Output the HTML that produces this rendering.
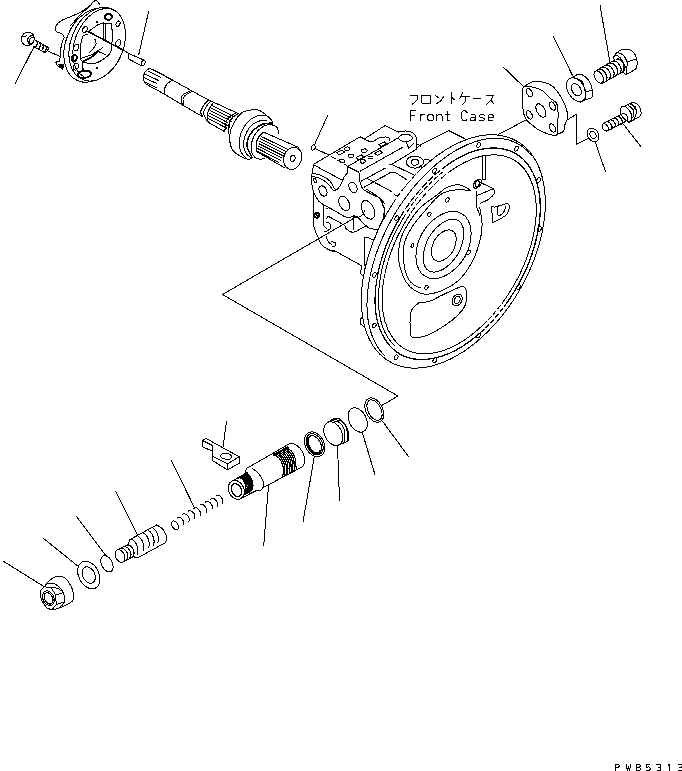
<!DOCTYPE html>
<html><head><meta charset="utf-8"><title>Front Case</title>
<style>
html,body{margin:0;padding:0;background:#fff;}
body{width:682px;height:771px;overflow:hidden;font-family:"Liberation Sans",sans-serif;}
svg{display:block;position:absolute;left:0;top:0;}
path,ellipse,line{stroke-linecap:round;stroke-linejoin:round;}
</style></head><body>
<svg shape-rendering="crispEdges" width="682" height="771" viewBox="0 0 682 771">
<rect x="0" y="0" width="682" height="771" fill="#fff"/>
<path d="M33.4 41.9 A6.3 6.8 28 0 1 22.2 35.9 A6.3 6.8 28 0 1 33.4 41.9Z" fill="none" stroke="#000" stroke-width="1"/>
<path d="M32.2 35.3 C31.6 35.6 29.3 36.5 28.6 37.2 C27.9 37.9 27.9 38.8 27.8 39.7 C27.8 40.6 27.9 41.7 28.3 42.6 C28.7 43.5 29.7 44.5 30 44.9" fill="none" stroke="#000" stroke-width="1.2"/>
<path d="M33.3 37.1 C32.8 37.4 30.9 38 30.3 38.6 C29.7 39.2 29.8 40.1 29.7 40.8 C29.6 41.5 29.8 42.2 30 42.8 C30.2 43.4 30.9 44.1 31.1 44.4" fill="none" stroke="#000" stroke-width="1"/>
<path d="M22 35.6 L23.4 36.4" fill="none" stroke="#000" stroke-width="1"/>
<path d="M24.5 36.7 L26.4 36" fill="none" stroke="#000" stroke-width="1"/>
<path d="M34.8 39.7 L48.7 47.7" fill="none" stroke="#000" stroke-width="1"/>
<path d="M33.3 46.3 L45.1 52.9" fill="none" stroke="#000" stroke-width="1"/>
<path d="M48.7 47.7 L47.6 50.7 L45.1 52.9" fill="none" stroke="#000" stroke-width="1"/>
<path d="M37 41 Q38 45 35.4 47.5" fill="none" stroke="#000" stroke-width="1.3"/>
<path d="M40 42.7 Q41 46.7 38.4 49.2" fill="none" stroke="#000" stroke-width="1.3"/>
<path d="M43 44.4 Q44 48.4 41.4 50.8" fill="none" stroke="#000" stroke-width="1.3"/>
<path d="M46 46.1 Q47 50.1 44.4 52.5" fill="none" stroke="#000" stroke-width="1.3"/>
<path d="M47.3 50.7 L60.1 56.5" fill="none" stroke="#000" stroke-width="1"/>
<path d="M34.1 46.6 L15.2 83.6" fill="none" stroke="#000" stroke-width="1"/>
<path d="M99.9 5 C99.5 4.4 98.3 2.2 97.5 1.5 C96.7 0.8 95.7 0.6 94.9 0.8 C94.1 1 93.1 1.8 92.5 2.5 C91.9 3.2 91.3 4.6 91.1 5" fill="none" stroke="#000" stroke-width="1"/>
<path d="M91.1 5 L80.5 12.5 L62.5 20" fill="none" stroke="#000" stroke-width="1"/>
<path d="M62.5 20 C61.7 20.6 58.8 22.1 57.5 23.7 C56.2 25.2 55.1 27.9 55 29.3 C54.9 30.7 55.6 31 56.9 31.8 C58.1 32.6 61.3 33.4 62.5 34.3 C63.7 35.2 64 36.9 64.3 37.4" fill="none" stroke="#000" stroke-width="1"/>
<path d="M64.3 37.4 C64 38 63.1 39 62.5 41.1 C61.9 43.2 61 47 60.6 49.9 C60.2 52.8 60.2 56.7 60 58.6 C59.8 60.5 59.5 60.7 59.4 61.1" fill="none" stroke="#000" stroke-width="1"/>
<path d="M59.4 61.1 L55.6 62.3 L57.5 65.5 L62.5 69.2" fill="none" stroke="#000" stroke-width="1"/>
<path d="M58.6 64.6 L62.8 68.8 L64 65Z" fill="#000" stroke="#000" stroke-width="1"/>
<path d="M116.9 55.2 A26.5 38.3 22 0 1 67.7 35.4 A26.5 38.3 22 0 1 116.9 55.2Z" fill="none" stroke="#000" stroke-width="1"/>
<path d="M91.1 5 L81.2 13.7 L70 26.2" fill="none" stroke="#000" stroke-width="1"/>
<path d="M121.6 54.1 A26.3 38.2 22 0 1 72.8 34.3 A26.3 38.2 22 0 1 121.6 54.1Z" fill="#fff" stroke="#000" stroke-width="1"/>
<path d="M83.6 76.7 A24.2 36.6 22 1 1 118.3 13.3" fill="none" stroke="#000" stroke-width="1"/>
<path d="M86.7 30.9 A2.2 3.2 35 0 1 83.1 28.3 A2.2 3.2 35 0 1 86.7 30.9Z" fill="none" stroke="#000" stroke-width="1"/>
<path d="M119.8 24.5 A2 3.4 25 0 1 116.2 22.9 A2 3.4 25 0 1 119.8 24.5Z" fill="none" stroke="#000" stroke-width="1"/>
<path d="M120.5 44 A2.4 3.4 25 0 1 116.1 42 A2.4 3.4 25 0 1 120.5 44Z" fill="none" stroke="#000" stroke-width="1"/>
<path d="M78.4 48.4 A2.4 3.4 25 0 1 74 46.4 A2.4 3.4 25 0 1 78.4 48.4Z" fill="none" stroke="#000" stroke-width="1"/>
<path d="M78.1 67.7 A2.4 3.4 25 0 1 73.7 65.7 A2.4 3.4 25 0 1 78.1 67.7Z" fill="none" stroke="#000" stroke-width="1"/>
<path d="M111.6 15.6 A3.4 3 -20 0 1 105.2 18 A3.4 3 -20 0 1 111.6 15.6Z" fill="none" stroke="#000" stroke-width="1.9"/>
<path d="M76.6 59 A2.4 3.4 20 0 1 72 57.4 A2.4 3.4 20 0 1 76.6 59Z" fill="none" stroke="#000" stroke-width="1.9"/>
<path d="M91 73.5 A6.8 4 -8 0 1 77.6 75.3 A6.8 4 -8 0 1 91 73.5Z" fill="none" stroke="#000" stroke-width="1.9"/>
<path d="M103.6 23 L103.6 40.5" fill="none" stroke="#000" stroke-width="1.2"/>
<path d="M105.5 23 L105.5 40.5" fill="none" stroke="#000" stroke-width="1"/>
<path d="M88.7 31.2 L98.6 24.3 L103.6 23 L111.1 23" fill="none" stroke="#000" stroke-width="1"/>
<path d="M111.1 23 C111.3 24.6 112.1 29.2 112.3 32.4 C112.5 35.6 112.1 39.1 112 42 C111.9 44.9 112.3 47.8 111.7 49.9 C111.1 52 109.1 54.1 108.6 54.9" fill="none" stroke="#000" stroke-width="1"/>
<path d="M87.4 34.9 C86.7 35.1 84.2 34.1 83 36.2 C81.8 38.3 80.9 43.7 80.5 47.4 C80.1 51.1 80.1 56.1 80.5 58.6 C80.9 61.1 82.6 61.7 83 62.3" fill="none" stroke="#000" stroke-width="1"/>
<path d="M80.5 58.6 C82.3 58 88.3 56.1 91.1 54.9 C93.9 53.6 95.4 52.3 97.4 51.1 C99.4 49.9 102.1 48.1 103 47.5" fill="none" stroke="#000" stroke-width="1"/>
<path d="M97.4 51.1 L106.1 54.9" fill="none" stroke="#000" stroke-width="1"/>
<path d="M83 62.3 C84.8 62.5 90.4 64 93.6 63.6 C96.8 63.2 99.9 61.4 102.4 59.9 C104.9 58.4 107.6 55.7 108.6 54.9" fill="none" stroke="#000" stroke-width="1"/>
<path d="M82.4 61.7 C83.9 61 88.7 58.9 91.1 57.4 C93.5 55.9 95.8 53.7 96.8 53" fill="none" stroke="#000" stroke-width="1.8"/>
<path d="M94.9 39.3 C95.1 40 96.3 42.1 96.1 43.6 C95.9 45.1 94.6 46.5 93.6 48 C92.6 49.5 90.5 51.7 89.9 52.4" fill="none" stroke="#000" stroke-width="1"/>
<path d="M82.4 62.3 L82.7 69.8" fill="none" stroke="#000" stroke-width="1.8"/>
<path d="M97.4 22.2 A0.6 0.6 0 0 1 96.2 22.2 A0.6 0.6 0 0 1 97.4 22.2Z" fill="#000" stroke="#000" stroke-width="1"/>
<path d="M97.7 68.3 A0.6 0.6 0 0 1 96.5 68.3 A0.6 0.6 0 0 1 97.7 68.3Z" fill="#000" stroke="#000" stroke-width="1"/>
<path d="M88 31.4 L121.2 49.1" fill="none" stroke="#000" stroke-width="1.5"/>
<path d="M121.2 49.1 L131 54.5" fill="none" stroke="#000" stroke-width="1"/>
<path d="M128.7 53.6 L143.7 59.9" fill="none" stroke="#000" stroke-width="1"/>
<path d="M128 58.6 L141.8 66" fill="none" stroke="#000" stroke-width="1"/>
<path d="M128.7 53.6 L128 58.6" fill="none" stroke="#000" stroke-width="1"/>
<path d="M144.8 63.8 A1.8 3.3 25 0 1 141.6 62.2 A1.8 3.3 25 0 1 144.8 63.8Z" fill="none" stroke="#000" stroke-width="1"/>
<path d="M138.7 54.9 L148.7 11.2" fill="none" stroke="#000" stroke-width="1"/>
<path d="M149.7 68.2 C149 68.8 146.3 70.4 145.3 71.7 C144.3 73 143.8 74.8 143.5 76.1 C143.2 77.4 143.2 78.4 143.5 79.6 C143.8 80.8 144.6 82.2 145.3 83.1 C146 84 147.1 84.6 147.5 84.9" fill="none" stroke="#000" stroke-width="1"/>
<path d="M149.7 68.2 L172.4 80 L191.1 90.5 L208.3 99.9" fill="none" stroke="#000" stroke-width="1"/>
<path d="M147.5 84.9 L164.9 94.4 L182.4 104.9 L201.7 116.1" fill="none" stroke="#000" stroke-width="1"/>
<path d="M153.2 69.6 L164.2 75.4" fill="none" stroke="#000" stroke-width="1"/>
<path d="M148.4 71.2 L160.7 77.4" fill="none" stroke="#000" stroke-width="1"/>
<path d="M145.7 74.3 L158.5 80.5" fill="none" stroke="#000" stroke-width="1"/>
<path d="M143.7 77.4 L156.7 83.5" fill="none" stroke="#000" stroke-width="1"/>
<path d="M144.4 81.8 L156.3 87.5" fill="none" stroke="#000" stroke-width="1"/>
<path d="M172.4 80 C171.5 80.7 168.2 82.6 166.8 84.3 C165.5 86 164.6 88.2 164.3 89.9 C164 91.6 164.8 93.6 164.9 94.3" fill="none" stroke="#000" stroke-width="1"/>
<path d="M191.1 90.5 C189.8 91.1 185.3 92.9 183.6 94.3 C181.9 95.7 181.3 96.9 181.1 98.7 C180.9 100.5 182.2 103.9 182.4 104.9" fill="none" stroke="#000" stroke-width="1"/>
<path d="M192.6 91.3 C191.4 92 187 93.8 185.4 95.2 C183.8 96.6 183.2 97.7 183 99.5 C182.8 101.3 183.8 104.8 184 105.8" fill="none" stroke="#000" stroke-width="1"/>
<path d="M208.7 100 C207.8 101 204.4 104.1 203.1 106.2 C201.8 108.3 200.7 110.7 200.6 112.4 C200.5 114.1 202.2 115.6 202.5 116.2" fill="none" stroke="#000" stroke-width="1.3"/>
<path d="M210.6 101.2 C209.8 102.2 206.8 105.2 205.6 107.4 C204.4 109.6 203.4 112 203.7 114.3 C204 116.6 206.9 120 207.5 121.2" fill="none" stroke="#000" stroke-width="1"/>
<path d="M213.5 102.3 C212.8 103.4 210.3 106.6 209.3 108.7 C208.3 110.8 207.7 112.7 207.5 114.9 C207.3 117.1 208 120.7 208.1 121.8" fill="none" stroke="#000" stroke-width="1"/>
<path d="M208.7 100 L238.6 113.7" fill="none" stroke="#000" stroke-width="1"/>
<path d="M207.5 121.8 L224.9 131.8" fill="none" stroke="#000" stroke-width="1"/>
<path d="M211.8 105.2 L233.3 116.2" fill="none" stroke="#000" stroke-width="1"/>
<path d="M211.1 107.9 L232.6 118.9" fill="none" stroke="#000" stroke-width="1"/>
<path d="M210.3 110.6 L231.8 121.6" fill="none" stroke="#000" stroke-width="1"/>
<path d="M209.6 113.3 L228.1 122.8" fill="none" stroke="#000" stroke-width="1"/>
<path d="M208.8 115.9 L227.3 125.4" fill="none" stroke="#000" stroke-width="1"/>
<path d="M208.1 118.6 L226.6 128.1" fill="none" stroke="#000" stroke-width="1"/>
<path d="M238.6 113.7 C237.6 114.3 233.9 115.7 232.4 117.4 C230.9 119.1 229.9 121 229.3 123.7 C228.7 126.4 228.8 131.9 228.7 133.6" fill="none" stroke="#000" stroke-width="1.3"/>
<path d="M236.1 113 C234.9 113.7 230.5 115.4 228.7 117.4 C226.9 119.4 226.1 122.5 225.5 124.9 C224.9 127.3 225 130.7 224.9 131.8" fill="none" stroke="#000" stroke-width="1"/>
<path d="M272.4 124.3 C272.3 123.7 272.9 122.1 271.8 120.6 C270.8 119 268.3 116.7 266.1 115 C263.9 113.3 261.2 111 258.7 110.2 C256.2 109.4 253.5 109.8 251.2 110 C248.9 110.2 246.9 110.5 245 111.2 C243.1 111.9 241.7 112.6 240 114.3 C238.3 116 236.5 118.8 235 121.2 C233.5 123.6 232.1 126.2 231.2 128.7 C230.3 131.2 229.9 133.9 229.7 136.2 C229.5 138.5 229.5 140.1 230 142.4 C230.5 144.7 230.8 147.6 232.5 149.9 C234.2 152.2 237.5 154.6 240 156.1 C242.5 157.6 245.4 158.8 247.4 159.2 C249.4 159.6 251.1 158.5 251.8 158.4" fill="#fff" stroke="#000" stroke-width="1"/>
<path d="M266.1 115 C264.5 115.2 259.3 115 256.2 116.2 C253.1 117.4 249.9 119.7 247.4 122.4 C244.9 125.1 242.5 128.9 241.2 132.4 C239.8 135.9 239.3 140.3 239.3 143.6 C239.3 146.9 239.8 149.8 241.2 152.4 C242.5 155 246.4 158.1 247.4 159.2" fill="none" stroke="#000" stroke-width="1"/>
<path d="M266.1 120.6 C264.9 120.7 261.4 120.2 258.7 121.2 C256 122.2 252.3 124.3 250 126.8 C247.7 129.3 246.1 133 245 136.2 C243.9 139.4 243.5 143.2 243.7 146.1 C243.9 149 244.8 151.6 246.2 153.6 C247.5 155.6 250.9 157.3 251.8 158" fill="none" stroke="#000" stroke-width="1"/>
<path d="M271.8 123 C270.2 123.2 265.4 123.1 262.4 124.3 C259.4 125.5 256.1 127.6 253.7 130 C251.3 132.4 249.1 135.8 248 138.7 C246.9 141.6 246.8 144.3 247.4 147.4 C248 150.5 251.1 155.7 251.8 157.4" fill="none" stroke="#000" stroke-width="1.5"/>
<path d="M278.6 133.7 C278.4 132.8 278.4 129.4 277.4 128 C276.4 126.5 274.5 125.4 272.4 125 C270.3 124.6 267.5 124.6 265 125.6 C262.5 126.6 259.5 128.8 257.4 131.2 C255.3 133.6 253.4 136.9 252.4 140 C251.4 143.1 250.8 147.1 251.2 150 C251.6 152.9 253.5 155.9 255 157.4 C256.5 158.9 258.3 159.1 260 159.2 C261.7 159.3 264.2 158.2 265 158" fill="#fff" stroke="#000" stroke-width="1"/>
<path d="M263.7 132.4 C263 133 260.4 134.8 259.3 136.2 C258.2 137.6 257.3 138.8 256.8 141.1 C256.3 143.4 256.1 148.1 256.2 149.9 C256.3 151.7 257.1 151.7 257.3 152" fill="none" stroke="#000" stroke-width="1.3"/>
<path d="M263.7 132.2 L298.6 147.4" fill="none" stroke="#000" stroke-width="1"/>
<path d="M256.8 151.7 L284.9 168" fill="none" stroke="#000" stroke-width="1"/>
<path d="M261.5 136.6 L288.2 149.6" fill="none" stroke="#000" stroke-width="1"/>
<path d="M260.7 138.9 L286.7 151.8" fill="none" stroke="#000" stroke-width="1"/>
<path d="M259.8 141.3 L285.1 153.9" fill="none" stroke="#000" stroke-width="1"/>
<path d="M259 143.7 L283.5 156" fill="none" stroke="#000" stroke-width="1"/>
<path d="M258.2 146.1 L281.9 158.1" fill="none" stroke="#000" stroke-width="1"/>
<path d="M257.4 148.4 L280.4 160.2" fill="none" stroke="#000" stroke-width="1"/>
<path d="M256.5 150.8 L278.8 162.4" fill="none" stroke="#000" stroke-width="1"/>
<path d="M301 161.3 A8.8 11.3 20 0 1 284.4 155.3 A8.8 11.3 20 0 1 301 161.3Z" fill="#fff" stroke="#000" stroke-width="1"/>
<path d="M294.9 159.1 A2.3 3.2 20 0 1 290.5 157.5 A2.3 3.2 20 0 1 294.9 159.1Z" fill="none" stroke="#000" stroke-width="1"/>
<path d="M315 148 A1.8 2.8 20 0 1 311.6 146.8 A1.8 2.8 20 0 1 315 148Z" fill="none" stroke="#000" stroke-width="1"/>
<path d="M315 143.6 L327.7 115.2" fill="none" stroke="#000" stroke-width="1"/>
<path d="M315 148.6 L328.7 154.9" fill="none" stroke="#000" stroke-width="1"/>
<path d="M331 156.3 L347 165.5" fill="none" stroke="#000" stroke-width="1" stroke-dasharray="5 3"/>
<path d="M313.7 164.3 L360.1 136.8 L364.3 138.9 L385.3 125.5 L398.6 132.2" fill="none" stroke="#000" stroke-width="1"/>
<path d="M398.7 131.8 C399.9 131.7 403.7 130.8 406.1 131 C408.5 131.2 411.3 132 413 133 C414.7 134 415.5 135.3 416.1 136.8 C416.7 138.3 416.3 141.1 416.4 142" fill="none" stroke="#000" stroke-width="1"/>
<path d="M416.4 142 L416.4 148.7" fill="none" stroke="#000" stroke-width="1"/>
<path d="M364.3 138.9 C365.1 139.3 367.4 140.8 368.9 141.2 C370.4 141.6 371.8 141.8 373.5 141.2 C375.2 140.6 376.6 138.5 379.1 137.8 C381.6 137.2 386.7 136.9 388.4 137.3 C390.1 137.7 389.2 139.9 389.4 140.4" fill="none" stroke="#000" stroke-width="1"/>
<path d="M348.3 166.1 L398.7 137.7" fill="none" stroke="#000" stroke-width="1"/>
<path d="M412.2 138 A6.7 3.8 0 0 1 398.8 138 A6.7 3.8 0 0 1 412.2 138Z" fill="none" stroke="#000" stroke-width="1"/>
<path d="M406.1 141.8 L408.6 148 L414.3 143" fill="none" stroke="#000" stroke-width="1"/>
<path d="M360.1 171.2 L403 147.1" fill="none" stroke="#000" stroke-width="1"/>
<path d="M361.2 181.2 L385.3 168.1" fill="none" stroke="#000" stroke-width="1"/>
<path d="M364.3 187.1 L390.4 172.7 L395.6 172.7 L406.8 179.8" fill="none" stroke="#000" stroke-width="1"/>
<path d="M389.4 164.9 L391.8 164.3 L394.9 162.4 L416.4 149.3" fill="none" stroke="#000" stroke-width="1"/>
<path d="M391.8 164.3 L414.9 175.5" fill="none" stroke="#000" stroke-width="1"/>
<path d="M416.4 148.7 L419.9 144.9 L448.7 130.6 L465 138.8" fill="none" stroke="#000" stroke-width="1"/>
<path d="M417.4 144.3 L420.5 146" fill="none" stroke="#000" stroke-width="1"/>
<path d="M414.9 175.5 L470 141.1" fill="none" stroke="#000" stroke-width="1"/>
<path d="M424.9 159.3 L431.1 160.5 L450 150 L465 140" fill="none" stroke="#000" stroke-width="1"/>
<path d="M423.5 162.1 A8.6 6 0 0 1 406.3 162.1 A8.6 6 0 0 1 423.5 162.1Z" fill="none" stroke="#000" stroke-width="1"/>
<path d="M418.5 162.3 A3.6 2.9 0 0 1 411.3 162.3 A3.6 2.9 0 0 1 418.5 162.3Z" fill="none" stroke="#000" stroke-width="1"/>
<path d="M420 165 L421.7 168.6 L424.2 165.5" fill="none" stroke="#000" stroke-width="1"/>
<path d="M365 186.7 L390.6 172.4" fill="none" stroke="#000" stroke-width="1"/>
<path d="M375.6 183 L391.8 191.7" fill="none" stroke="#000" stroke-width="1" stroke-dasharray="4 3"/>
<path d="M367.8 178.9 L391.5 191.2" fill="none" stroke="#000" stroke-width="1" stroke-dasharray="6 3"/>
<path d="M394.1 194.4 L431.6 212.4" fill="none" stroke="#000" stroke-width="1" stroke-dasharray="7 3"/>
<path d="M336.7 152.9 L341.9 150 L344.5 152.1 L339.3 155Z" fill="none" stroke="#000" stroke-width="1"/>
<path d="M349.7 148.3 A2.6 1.8 -10 0 1 344.5 149.3 A2.6 1.8 -10 0 1 349.7 148.3Z" fill="none" stroke="#000" stroke-width="1"/>
<path d="M353.7 155.6 A2.8 1.7 -5 0 1 348.1 156 A2.8 1.7 -5 0 1 353.7 155.6Z" fill="none" stroke="#000" stroke-width="1"/>
<path d="M344.6 161.6 A2.6 1.8 10 0 1 339.4 160.6 A2.6 1.8 10 0 1 344.6 161.6Z" fill="none" stroke="#000" stroke-width="1"/>
<path d="M367.1 150.5 A2.8 1.8 -5 0 1 361.5 150.9 A2.8 1.8 -5 0 1 367.1 150.5Z" fill="none" stroke="#000" stroke-width="1"/>
<path d="M356.1 157.7 L361.3 154.8 L363.7 156.9 L358.5 159.8Z" fill="none" stroke="#000" stroke-width="1"/>
<path d="M365.3 161.2 A2.6 1.8 -5 0 1 360.1 161.6 A2.6 1.8 -5 0 1 365.3 161.2Z" fill="none" stroke="#000" stroke-width="1"/>
<path d="M368 156.3 L372.6 156.3" fill="none" stroke="#000" stroke-width="1"/>
<path d="M368 158.6 L372.6 158.6" fill="none" stroke="#000" stroke-width="1"/>
<path d="M374.8 153.3 L380 150.4 L382.4 152.5 L377.2 155.4Z" fill="none" stroke="#000" stroke-width="1"/>
<path d="M378.8 144.7 L384.1 141.8 L386.4 143.7 L381.1 146.6Z" fill="none" stroke="#000" stroke-width="1"/>
<path d="M313.7 164.9 L342.7 180.4 L343.7 177.3 L347.3 173.2 L347.8 166.6" fill="none" stroke="#000" stroke-width="1"/>
<path d="M347.8 166.6 L357.1 171.2" fill="none" stroke="#000" stroke-width="1.6"/>
<path d="M357.1 171.2 C357.4 171.4 358.6 171.1 359 172.6 C359.4 174.1 359.1 177.9 359.5 180.2 C359.9 182.4 360.6 184.5 361.3 186.1 C362 187.7 362.1 188.3 363.7 189.6 C365.3 190.9 368 192.2 370.7 193.7 C373.4 195.2 377.7 196.6 380.1 198.4 C382.5 200.2 384.2 203.3 385 204.3" fill="none" stroke="#000" stroke-width="1"/>
<path d="M366 189 C367.6 190 372.9 193 375.4 194.9 C377.9 196.8 379.8 198.5 381.2 200.7 C382.6 202.8 383.2 206.6 383.6 207.8" fill="none" stroke="#000" stroke-width="1"/>
<path d="M313.7 164.9 C313.4 166.1 312.5 169.1 312.2 172 C311.9 174.9 311.4 179 311.6 182.4 C311.9 185.8 312.5 189.2 313.7 192.3 C314.9 195.4 317 198.9 318.7 201 C320.4 203.1 322.9 204.2 323.7 204.8" fill="none" stroke="#000" stroke-width="1"/>
<path d="M313.5 190 L313.5 225" fill="none" stroke="#000" stroke-width="1"/>
<path d="M323.7 204.8 L323.7 226" fill="none" stroke="#000" stroke-width="1"/>
<path d="M313.3 225.1 C313.6 226.1 314.4 228.9 315.4 231.3 C316.3 233.7 318 237.3 319 239.6 C320 241.8 320.2 243.2 321.6 244.8 C323 246.4 325.4 247.8 327.3 248.9 C329.2 250 332.1 251.1 333 251.5" fill="none" stroke="#000" stroke-width="1"/>
<path d="M333 251.5 L335.1 251 L361.1 265.4" fill="none" stroke="#000" stroke-width="1"/>
<path d="M312.6 173.2 C314.3 173.7 319.7 174.7 322.6 176.1 C325.5 177.5 328.2 179.3 330.2 181.4 C332.1 183.5 333.2 187 334.3 188.4 C335.4 189.8 335.7 190.1 336.7 189.6 C337.7 189.1 339.2 187 340.2 185.5 C341.2 184 342.3 181.2 342.7 180.4" fill="none" stroke="#000" stroke-width="1"/>
<path d="M311.5 176.1 C312.9 176.5 317.5 177.2 320.2 178.5 C322.9 179.8 325.8 181.8 327.9 183.7 C330 185.5 331.2 188.4 332.6 189.6 C334 190.8 335.5 190.6 336.1 190.8" fill="none" stroke="#000" stroke-width="1"/>
<path d="M326.4 189.4 A3.8 6.3 -25 0 1 319.6 192.6 A3.8 6.3 -25 0 1 326.4 189.4Z" fill="none" stroke="#000" stroke-width="1"/>
<path d="M356.4 185.8 A3.8 6.6 -25 0 1 349.6 189 A3.8 6.6 -25 0 1 356.4 185.8Z" fill="none" stroke="#000" stroke-width="1"/>
<path d="M348.7 201.5 A4.8 7.8 -25 0 1 339.9 205.5 A4.8 7.8 -25 0 1 348.7 201.5Z" fill="none" stroke="#000" stroke-width="1"/>
<path d="M373.3 207.3 A5.8 9.8 -25 0 1 362.7 212.3 A5.8 9.8 -25 0 1 373.3 207.3Z" fill="none" stroke="#000" stroke-width="1"/>
<path d="M316.1 180 A1.2 2.6 -25 0 1 313.9 181 A1.2 2.6 -25 0 1 316.1 180Z" fill="none" stroke="#000" stroke-width="1"/>
<path d="M319.2 215.4 A2.4 2.4 0 0 1 314.4 215.4 A2.4 2.4 0 0 1 319.2 215.4Z" fill="none" stroke="#000" stroke-width="1.8"/>
<path d="M315.3 214 L318.3 216.8" fill="none" stroke="#000" stroke-width="1.5"/>
<path d="M323.7 204.8 C325.8 205.9 332.3 209.5 336.1 211.6 C339.9 213.7 343.6 216.5 346.5 217.3 C349.4 218.1 352.5 216.5 353.7 216.3" fill="none" stroke="#000" stroke-width="1"/>
<path d="M353.7 216.3 C354.4 216.5 356.3 217.7 357.9 217.3 C359.5 217 362 215.3 363.1 214.2 C364.2 213.1 364.3 211.1 364.5 210.5" fill="none" stroke="#000" stroke-width="1"/>
<path d="M353.5 216 L357.9 217.3" fill="none" stroke="#000" stroke-width="1.6"/>
<path d="M353.2 215.7 L353.2 229.7" fill="none" stroke="#000" stroke-width="1"/>
<path d="M328.3 216.3 C330.9 217.8 340.9 222.9 343.9 225.1 C346.9 227.2 344.9 228 346.5 229.2 C348.1 230.4 350.9 232.3 353.2 232.3 C355.4 232.3 357.8 230.3 360 229.2 C362.2 228.1 365.2 226.2 366.2 225.6" fill="none" stroke="#000" stroke-width="1"/>
<path d="M357.9 217.3 C358.8 218.2 361.2 221.2 363.1 223 C365 224.8 367.3 227.2 369.3 228.2 C371.3 229.2 373.2 229 375 229.2 C376.8 229.4 379 229.3 379.8 229.3" fill="none" stroke="#000" stroke-width="1"/>
<path d="M328.3 216.3 L326.5 218.3" fill="none" stroke="#000" stroke-width="1"/>
<path d="M326.3 208.5 L329.4 207.4" fill="none" stroke="#000" stroke-width="1"/>
<path d="M323.7 225.6 L326.3 228.2" fill="none" stroke="#000" stroke-width="1"/>
<path d="M326.8 222.5 C327.3 222.7 329.3 222.6 329.9 223.5 C330.5 224.4 330.8 227 330.4 228.2 C330 229.4 328.2 230.2 327.3 230.8 C326.4 231.4 325.1 231.6 324.7 231.8" fill="none" stroke="#000" stroke-width="1"/>
<path d="M326.3 236.5 C326.6 237.4 327.4 240.3 328.3 241.7 C329.2 243.1 331.4 244.3 332 244.8" fill="none" stroke="#000" stroke-width="1"/>
<path d="M331.4 241.7 C332 241.9 334.5 242 335.1 242.7 C335.7 243.4 335.5 245.1 335.1 245.8 C334.7 246.5 332.9 246.6 332.5 246.8" fill="none" stroke="#000" stroke-width="1"/>
<path d="M330.9 250 L335.1 251" fill="none" stroke="#000" stroke-width="1"/>
<path d="M364.6 237.5 L364.6 265.5" fill="none" stroke="#000" stroke-width="1"/>
<path d="M364.6 237.5 L367.2 237 L373.4 240.1" fill="none" stroke="#000" stroke-width="1"/>
<path d="M373.6 240.5 C374.3 238.8 376.4 233.6 378 230 C379.6 226.4 381.8 221.8 383 219 C384.2 216.2 384.7 214 385 213" fill="none" stroke="#000" stroke-width="1"/>
<path d="M383 205 C383.3 205.8 384.9 208.3 385 210 C385.1 211.7 383.5 213.5 383.5 215 C383.5 216.5 384.8 218.3 385 219" fill="none" stroke="#000" stroke-width="1"/>
<path d="M361.1 265.4 L361.6 267.5 L360.3 272.2 L361.1 274.5 L364.3 275.8 L363.3 277.6" fill="none" stroke="#000" stroke-width="1"/>
<path d="M222.5 294.5 L357.4 216.2" fill="none" stroke="#000" stroke-width="1"/>
<path d="M222.5 294.5 L398 396" fill="none" stroke="#000" stroke-width="1"/>
<ellipse cx="453.33" cy="251.5" rx="76.7" ry="127.3" transform="rotate(30 453.33 251.5)" fill="#fff" stroke="none"/>
<path d="M426.1 164.5 A76.7 127.3 30 1 1 392.7 203.7" fill="none" stroke="#000" stroke-width="1"/>
<path d="M392.7 203.7 A76.7 127.3 30 0 1 426.1 164.5" fill="none" stroke="#000" stroke-width="1" stroke-dasharray="5 3"/>
<path d="M384.8 355.8 A72.3 125.7 30 1 1 531.9 156.2" fill="none" stroke="#000" stroke-width="1"/>
<path d="M444 167.4 A68 115.5 30 0 1 506.8 303" fill="none" stroke="#000" stroke-width="1.3"/>
<path d="M506.8 303 A68 115.5 30 0 1 483.9 329.5" fill="none" stroke="#000" stroke-width="1.2" stroke-dasharray="4 3"/>
<path d="M483.9 329.5 A68 115.5 30 0 1 400.8 216.3" fill="none" stroke="#000" stroke-width="1.3"/>
<path d="M400.8 216.3 A68 115.5 30 0 1 444 167.4" fill="none" stroke="#000" stroke-width="1.2" stroke-dasharray="6 3"/>
<path d="M448.5 172.5 A62.8 108.9 30 0 1 504.4 300.1" fill="none" stroke="#000" stroke-width="1"/>
<path d="M504.4 300.1 A62.8 108.9 30 0 1 482.9 325.1" fill="none" stroke="#000" stroke-width="1" stroke-dasharray="4 3"/>
<path d="M482.9 325.1 A62.8 108.9 30 0 1 406.7 219.6" fill="none" stroke="#000" stroke-width="1"/>
<path d="M406.7 219.6 A62.8 108.9 30 0 1 448.5 172.5" fill="none" stroke="#000" stroke-width="1" stroke-dasharray="6 3"/>
<path d="M403.6 217.4 A66.3 113 30 0 0 395 346.2" fill="none" stroke="#000" stroke-width="1"/>
<path d="M403.6 217.4 A66.3 113 30 0 1 443 171.7" fill="none" stroke="#000" stroke-width="1" stroke-dasharray="4 3"/>
<path d="M362.3 316.9 L360.3 319.3 L360.5 323.9 L365.2 328" fill="none" stroke="#000" stroke-width="1"/>
<path d="M453.2 251 A10.9 19.1 30 0 1 434.4 240.2 A10.9 19.1 30 0 1 453.2 251Z" fill="none" stroke="#000" stroke-width="1"/>
<path d="M458 254 A16.8 31.4 30 0 1 429 237.2 A16.8 31.4 30 0 1 458 254Z" fill="none" stroke="#000" stroke-width="1"/>
<path d="M464.7 257.2 A24.5 38.5 30 0 1 422.3 232.8 A24.5 38.5 30 0 1 464.7 257.2Z" fill="none" stroke="#000" stroke-width="1"/>
<path d="M375.7 275.8 A1.6 2.6 30 0 1 372.9 274.2 A1.6 2.6 30 0 1 375.7 275.8Z" fill="none" stroke="#000" stroke-width="1"/>
<path d="M375.7 326.3 A1.6 2.6 30 0 1 372.9 324.7 A1.6 2.6 30 0 1 375.7 326.3Z" fill="none" stroke="#000" stroke-width="1"/>
<path d="M397.5 358.1 A1.6 2.6 30 0 1 394.7 356.5 A1.6 2.6 30 0 1 397.5 358.1Z" fill="none" stroke="#000" stroke-width="1"/>
<path d="M436.2 361.2 A1.6 2.6 30 0 1 433.4 359.6 A1.6 2.6 30 0 1 436.2 361.2Z" fill="none" stroke="#000" stroke-width="1"/>
<path d="M480 336.3 A1.6 2.6 30 0 1 477.2 334.7 A1.6 2.6 30 0 1 480 336.3Z" fill="none" stroke="#000" stroke-width="1"/>
<path d="M517.8 149.5 A1.6 2.6 30 0 1 515 147.9 A1.6 2.6 30 0 1 517.8 149.5Z" fill="none" stroke="#000" stroke-width="1"/>
<path d="M540 180.7 A1.6 2.6 30 0 1 537.2 179.1 A1.6 2.6 30 0 1 540 180.7Z" fill="none" stroke="#000" stroke-width="1"/>
<path d="M480 145.8 A1.6 2.6 30 0 1 477.2 144.2 A1.6 2.6 30 0 1 480 145.8Z" fill="none" stroke="#000" stroke-width="1"/>
<path d="M435.9 171.6 A1.6 2.6 30 0 1 433.1 170 A1.6 2.6 30 0 1 435.9 171.6Z" fill="none" stroke="#000" stroke-width="1"/>
<path d="M398.1 219 A1.6 2.6 30 0 1 395.3 217.4 A1.6 2.6 30 0 1 398.1 219Z" fill="none" stroke="#000" stroke-width="1"/>
<path d="M540.9 229.8 A1.6 2.6 30 0 1 538.1 228.2 A1.6 2.6 30 0 1 540.9 229.8Z" fill="none" stroke="#000" stroke-width="1"/>
<path d="M519.9 287.8 A1.6 2.6 30 0 1 517.1 286.2 A1.6 2.6 30 0 1 519.9 287.8Z" fill="none" stroke="#000" stroke-width="1"/>
<path d="M427.8 288.1 A1.5 2.3 30 0 1 425.2 286.6 A1.5 2.3 30 0 1 427.8 288.1Z" fill="none" stroke="#000" stroke-width="1"/>
<path d="M413.8 246.2 A1.5 2.3 30 0 1 411.2 244.8 A1.5 2.3 30 0 1 413.8 246.2Z" fill="none" stroke="#000" stroke-width="1"/>
<path d="M430.6 215.1 A1.5 2.3 30 0 1 428 213.6 A1.5 2.3 30 0 1 430.6 215.1Z" fill="none" stroke="#000" stroke-width="1"/>
<path d="M448.7 200.8 A1.5 2.3 30 0 1 446.1 199.2 A1.5 2.3 30 0 1 448.7 200.8Z" fill="none" stroke="#000" stroke-width="1"/>
<path d="M469.9 253.1 A1.5 2.3 30 0 1 467.3 251.6 A1.5 2.3 30 0 1 469.9 253.1Z" fill="none" stroke="#000" stroke-width="1"/>
<path d="M479.7 207 C480.1 209.9 482.1 218.6 482.1 224.4 C482.1 230.2 481.4 235.7 479.7 241.9 C478 248.1 475.5 255.6 472.2 261.8 C468.9 268 464.3 274.7 459.7 279.3 C455.1 283.9 450.1 286.8 444.7 289.3 C439.3 291.8 432.3 294 427.3 294.2 C422.3 294.4 418.3 292.6 414.8 290.5 C411.3 288.4 408.6 285.8 406.1 281.8 C403.6 277.9 401.1 271.8 399.9 266.8 C398.6 261.8 398.4 256.7 398.6 251.9 C398.8 247.1 399.4 242.7 401 238 C402.6 233.3 404.8 229 408 224 C411.2 219 415.2 212.8 420 208 C424.8 203.2 432.7 198.3 437 195 C441.3 191.7 442.4 189.7 446 188 C449.6 186.3 454.5 184.4 458.7 184.8 C462.9 185.2 468.9 189.5 471 190.4" fill="none" stroke="#000" stroke-width="1"/>
<path d="M404.9 270 C404.6 267.5 403 259.8 403 255 C403 250.2 403.5 245.7 405 241 C406.5 236.3 408.8 231.8 412 227 C415.2 222.2 419.3 217.4 424 212 C428.7 206.6 434.7 198.5 440 194.8 C445.3 191.1 450.8 190.5 456 189.8 C461.2 189.1 468.5 190.5 471 190.6" fill="none" stroke="#000" stroke-width="1"/>
<path d="M404.9 270 C405.5 271.5 407 276.5 408.5 279 C410 281.5 411.9 283.5 414 285 C416.1 286.5 419.8 287.5 421 288" fill="none" stroke="#000" stroke-width="1"/>
<path d="M482.4 156.2 L482.4 179.2" fill="none" stroke="#000" stroke-width="1"/>
<path d="M485.8 156.2 L485.8 179.2" fill="none" stroke="#000" stroke-width="1.3"/>
<path d="M482.4 179.2 L485.8 179.2" fill="none" stroke="#000" stroke-width="1"/>
<path d="M478.9 185.4 A2.6 4.2 25 0 1 474.1 183.2 A2.6 4.2 25 0 1 478.9 185.4Z" fill="none" stroke="#000" stroke-width="1.4"/>
<path d="M480.9 184.3 A2.6 4.2 25 0 1 476.1 182.1 A2.6 4.2 25 0 1 480.9 184.3Z" fill="none" stroke="#000" stroke-width="1"/>
<path d="M479.9 182.3 L493.6 188.6 L476 196" fill="none" stroke="#000" stroke-width="1"/>
<path d="M493.6 188.6 C493.8 189.3 495.3 191.3 494.5 193 C493.7 194.7 491.4 197.2 489 199 C486.6 200.8 481.5 202.8 480 203.5" fill="none" stroke="#000" stroke-width="1"/>
<path d="M476 190.5 L476 204.8 L480 216" fill="none" stroke="#000" stroke-width="1"/>
<path d="M491.7 206 L492.5 222.5" fill="none" stroke="#000" stroke-width="1"/>
<path d="M492.5 222.5 C493.8 221.9 497.6 220.4 500 219 C502.4 217.6 505.4 216.1 507 214 C508.6 211.9 509.3 208.2 509.5 206.5 C509.7 204.8 508.2 204.4 508 204" fill="none" stroke="#000" stroke-width="1"/>
<path d="M491.7 206 L494.5 207.2 L508 203.2" fill="none" stroke="#000" stroke-width="1"/>
<path d="M497.5 208 C497.6 209.2 497.2 214.8 498.2 215.5 C499.2 216.2 502.2 214.1 503.5 212.5 C504.8 210.9 505.6 207.1 506 206" fill="none" stroke="#000" stroke-width="1"/>
<path d="M466 290 C466 292.1 466.6 299.2 466 302.5 C465.4 305.8 464.7 307.1 462.4 310 C460.1 312.9 456.5 316.7 452.4 320 C448.2 323.3 442.1 327.3 437.5 330 C432.9 332.7 428.9 334.9 424.8 336.1 C420.7 337.3 415.4 337.9 413 337.3 C410.6 336.7 410.9 336.2 410.5 332.3 C410.1 328.4 410 317.8 410.5 313.6 C411 309.5 412.2 309.2 413.6 307.4 C415 305.6 417.8 303.7 418.6 303" fill="none" stroke="#000" stroke-width="1"/>
<path d="M418.6 303 C420.5 302.7 426.2 302.3 429.8 301.2 C433.4 300.1 436.3 298 440 296.2 C443.7 294.4 448.7 292 452 290.5 C455.3 289 458 287.6 460 287 C462 286.4 463 286.5 464 287 C465 287.5 465.7 289.5 466 290" fill="none" stroke="#000" stroke-width="1"/>
<path d="M461.2 302.3 A4.6 6.2 30 0 1 453.2 297.7 A4.6 6.2 30 0 1 461.2 302.3Z" fill="none" stroke="#000" stroke-width="1"/>
<path d="M459.5 301.3 A2.6 3.8 30 0 1 454.9 298.7 A2.6 3.8 30 0 1 459.5 301.3Z" fill="none" stroke="#000" stroke-width="1"/>
<path d="M523.6 86.8 C525.2 86 529.7 82.5 533.1 81.8 C536.5 81 540.7 81.5 544 82.3 C547.3 83.1 550.4 84.5 553.1 86.8 C555.8 89.1 558.4 92.9 560.4 95.9 C562.4 98.9 563.7 101.9 564.9 104.9 C566.1 107.9 567.2 111.6 567.6 114 C568 116.4 567.7 117.7 567.2 119.5 C566.8 121.3 565.4 123.2 564.9 124.9 C564.4 126.6 565 128.2 564.5 129.4 C564 130.6 563.4 131.4 562.2 132.2 C561 133 558 134 557.2 134.4" fill="none" stroke="#000" stroke-width="1"/>
<path d="M523.6 86.8 C525.4 85.1 530 86.7 533.1 87.3 C536.2 87.9 539.5 88.7 542.2 90.4 C544.9 92.1 547.2 95.7 549.5 97.7 C551.8 99.7 554.4 100.7 555.8 102.2 C557.1 103.7 557.2 104.5 557.6 106.8 C558 109.1 558.1 112.6 558.1 115.8 C558.1 119 557.8 122.7 557.6 125.8 C557.5 128.9 558 132.8 557.2 134.4 C556.5 136 554.8 135.5 553.1 135.3 C551.4 135.2 549.1 134.3 546.8 133.5 C544.5 132.7 541.8 131.7 539.5 130.4 C537.2 129.1 535.2 127.5 533.1 125.8 C531 124.1 528.3 122.2 526.8 120.4 C525.3 118.6 524.8 117.2 524.1 114.9 C523.4 112.6 523 109.7 522.7 106.8 C522.4 103.9 522.1 101 522.3 97.7 C522.4 94.4 521.8 88.5 523.6 86.8Z" fill="#fff" stroke="#000" stroke-width="1"/>
<path d="M544.4 108.5 A4 7.3 -30 0 1 537.4 112.5 A4 7.3 -30 0 1 544.4 108.5Z" fill="none" stroke="#000" stroke-width="1"/>
<path d="M531.6 91.4 A2.6 4.4 -30 0 1 527 94 A2.6 4.4 -30 0 1 531.6 91.4Z" fill="none" stroke="#000" stroke-width="1"/>
<path d="M554.7 104.8 A2.6 4.4 -30 0 1 550.1 107.4 A2.6 4.4 -30 0 1 554.7 104.8Z" fill="none" stroke="#000" stroke-width="1"/>
<path d="M531.6 113.6 A2.6 4.4 -30 0 1 527 116.2 A2.6 4.4 -30 0 1 531.6 113.6Z" fill="none" stroke="#000" stroke-width="1"/>
<path d="M554.7 126.7 A2.6 4.4 -30 0 1 550.1 129.3 A2.6 4.4 -30 0 1 554.7 126.7Z" fill="none" stroke="#000" stroke-width="1"/>
<path d="M523.7 86.8 L503.1 66.9" fill="none" stroke="#000" stroke-width="1"/>
<path d="M526.2 119.9 L498.2 134.6" fill="none" stroke="#000" stroke-width="1"/>
<path d="M567.3 119.9 L576.4 114.2 L576.4 144.2 L587.5 138.6" fill="none" stroke="#000" stroke-width="1"/>
<path d="M572.5 77.4 C573.5 76.9 576.5 74.4 578.7 74.3 C580.9 74.2 583.5 75.2 585.5 76.8 C587.5 78.3 589.4 81.2 590.5 83.6 C591.6 86 592.2 88.8 592.4 91.1 C592.6 93.4 592.9 95.8 591.8 97.3 C590.6 98.8 587.5 99 585.5 99.8 C583.5 100.6 580.9 101.9 580 102.3" fill="none" stroke="#000" stroke-width="1"/>
<path d="M583.5 85.4 A8.4 12.9 -30 0 1 568.9 93.8 A8.4 12.9 -30 0 1 583.5 85.4Z" fill="#fff" stroke="#000" stroke-width="1"/>
<path d="M580.2 87.6 A4.4 7 -30 0 1 572.6 92 A4.4 7 -30 0 1 580.2 87.6Z" fill="none" stroke="#000" stroke-width="1"/>
<path d="M585.3 92.3 L592.4 89.9" fill="none" stroke="#000" stroke-width="1"/>
<path d="M585.5 92.3 L585.5 99.8" fill="none" stroke="#000" stroke-width="1"/>
<path d="M573 77.8 C574.5 78.3 579.8 78.7 581.8 81.1 C583.8 83.5 584.7 90.4 585.3 92.3" fill="none" stroke="#000" stroke-width="1"/>
<path d="M572.5 75.5 L553.3 36.2" fill="none" stroke="#000" stroke-width="1"/>
<path d="M596.1 70.5 L614.9 59.9" fill="none" stroke="#000" stroke-width="1"/>
<path d="M601.8 83.6 L623 71.8" fill="none" stroke="#000" stroke-width="1"/>
<path d="M602.1 75 A3.9 6.6 -30 0 1 595.3 79 A3.9 6.6 -30 0 1 602.1 75Z" fill="none" stroke="#000" stroke-width="1"/>
<path d="M598.5 69.7 A3.9 6.6 -30 0 1 606.1 80.3" fill="none" stroke="#000" stroke-width="1.2"/>
<path d="M602.1 67.6 A3.9 6.6 -30 0 1 609.7 78.2" fill="none" stroke="#000" stroke-width="1.2"/>
<path d="M605.7 65.6 A3.9 6.6 -30 0 1 613.3 76.2" fill="none" stroke="#000" stroke-width="1.2"/>
<path d="M609.3 63.6 A3.9 6.6 -30 0 1 616.9 74.2" fill="none" stroke="#000" stroke-width="1.2"/>
<path d="M612.9 61.6 A3.9 6.6 -30 0 1 620.5 72.1" fill="none" stroke="#000" stroke-width="1.2"/>
<path d="M616.5 59.5 A3.9 6.6 -30 0 1 624.1 70.1" fill="none" stroke="#000" stroke-width="1.2"/>
<path d="M614.9 54.9 C615.6 54.2 617.4 51.9 619 51 C620.6 50.1 622.6 49.3 624.8 49.3 C627 49.3 630.3 49.6 632.3 51.2 C634.3 52.8 636 56 636.7 58.7 C637.4 61.4 637.4 65.3 636.7 67.4 C636 69.5 634.1 69.9 632.3 71.1 C630.5 72.2 627.6 74.2 626.1 74.3 C624.6 74.4 623.5 72.2 623 71.8" fill="none" stroke="#000" stroke-width="1"/>
<path d="M614.9 54.9 C614.7 55.4 613.5 57.1 613.5 58 C613.5 58.9 614.7 60.1 614.9 60.5" fill="none" stroke="#000" stroke-width="1"/>
<path d="M617.5 52.5 C618.4 52.9 621.4 53.4 623 55 C624.6 56.6 626.4 59.5 627 62 C627.6 64.5 626.6 68 626.5 70 C626.4 72 626.2 73.6 626.1 74.3" fill="none" stroke="#000" stroke-width="1"/>
<path d="M614.9 54.9 C615.8 55.3 618.6 56 620 57.5 C621.4 59 623 61.6 623.5 64 C624 66.4 623.1 70.5 623 71.8" fill="none" stroke="#000" stroke-width="1"/>
<path d="M627 62 L636.7 58.7" fill="none" stroke="#000" stroke-width="1"/>
<path d="M609.9 61.8 L604.3 30 L600 5" fill="none" stroke="#000" stroke-width="1"/>
<path d="M597.8 132.1 A5.6 8.2 -30 0 1 588.2 137.7 A5.6 8.2 -30 0 1 597.8 132.1Z" fill="none" stroke="#000" stroke-width="1"/>
<path d="M595.4 133.5 A2.8 4.5 -30 0 1 590.6 136.3 A2.8 4.5 -30 0 1 595.4 133.5Z" fill="none" stroke="#000" stroke-width="1"/>
<path d="M595.6 143 L605.5 171.7" fill="none" stroke="#000" stroke-width="1"/>
<path d="M624.9 106.2 C626.1 105.6 630.2 103.1 632.3 102.8 C634.4 102.5 635.9 103.1 637.3 104.3 C638.7 105.5 640.3 108.1 640.8 110 C641.3 111.9 641.6 113.9 640.4 115.6 C639.2 117.2 635.6 118.8 633.6 119.9 C631.6 121 629.4 122 628.6 122.4" fill="none" stroke="#000" stroke-width="1"/>
<path d="M630.1 111.5 A4.6 8.2 -30 0 1 622.1 116.1 A4.6 8.2 -30 0 1 630.1 111.5Z" fill="#fff" stroke="#000" stroke-width="1"/>
<path d="M603 123.7 L623.5 113.4" fill="none" stroke="#000" stroke-width="1"/>
<path d="M606.8 131.1 L626 121.2" fill="none" stroke="#000" stroke-width="1"/>
<path d="M607.6 126 A2.8 4.4 -30 0 1 602.8 128.8 A2.8 4.4 -30 0 1 607.6 126Z" fill="none" stroke="#000" stroke-width="1"/>
<path d="M606 122.1 A2.8 4.4 -30 0 1 611.2 129.2" fill="none" stroke="#000" stroke-width="1.2"/>
<path d="M609.4 120.4 A2.8 4.4 -30 0 1 614.6 127.4" fill="none" stroke="#000" stroke-width="1.2"/>
<path d="M612.8 118.6 A2.8 4.4 -30 0 1 618 125.7" fill="none" stroke="#000" stroke-width="1.2"/>
<path d="M616.2 116.9 A2.8 4.4 -30 0 1 621.4 123.9" fill="none" stroke="#000" stroke-width="1.2"/>
<path d="M621.7 114.3 A2.8 4.4 -30 0 1 627.5 120.5" fill="none" stroke="#000" stroke-width="1"/>
<path d="M628.3 105.8 A3.6 6.4 -30 0 1 632.1 117.3" fill="none" stroke="#000" stroke-width="1"/>
<path d="M633 106 L636 109.5" fill="none" stroke="#000" stroke-width="1"/>
<path d="M636 106.5 L633.5 110" fill="none" stroke="#000" stroke-width="1"/>
<path d="M629 103.5 C629.8 103.9 632.8 104.6 634 106 C635.2 107.4 636.6 109.7 636.5 112 C636.4 114.3 634.1 118.6 633.6 119.9" fill="none" stroke="#000" stroke-width="1"/>
<path d="M622.4 123 L641 146.7" fill="none" stroke="#000" stroke-width="1"/>
<path d="M398 396 L381.8 405.5" fill="none" stroke="#000" stroke-width="1"/>
<path d="M381.8 406.3 A8.4 13 -27 0 1 366.8 413.9 A8.4 13 -27 0 1 381.8 406.3Z" fill="none" stroke="#000" stroke-width="1"/>
<path d="M380.3 407.1 A6.5 10.9 -27 0 1 368.7 413.1 A6.5 10.9 -27 0 1 380.3 407.1Z" fill="none" stroke="#000" stroke-width="1"/>
<path d="M382.4 421.1 L408.6 456.7" fill="none" stroke="#000" stroke-width="1"/>
<path d="M365.4 416.1 A8.6 12.9 -27 0 1 350 423.9 A8.6 12.9 -27 0 1 365.4 416.1Z" fill="none" stroke="#000" stroke-width="1"/>
<path d="M362.2 432.1 L375 474.8" fill="none" stroke="#000" stroke-width="1"/>
<path d="M328.7 421.8 C329.9 421.2 333.8 418.1 336.1 418 C338.4 417.9 340.5 419.4 342.4 421.2 C344.3 423 346.4 425.5 347.4 428.6 C348.4 431.7 349 437.6 348.6 439.9 C348.2 442.2 346.8 441.5 344.9 442.4 C343 443.3 338.6 445 337.4 445.5" fill="none" stroke="#000" stroke-width="1"/>
<path d="M341 429.8 A8.6 12.5 -27 0 1 325.6 437.6 A8.6 12.5 -27 0 1 341 429.8Z" fill="#fff" stroke="#000" stroke-width="1"/>
<path d="M331.1 420.5 C332.5 420.9 337.5 421 339.7 422.6 C341.9 424.2 343.6 426.9 344.5 430.1 C345.4 433.3 344.8 439.9 344.9 441.8" fill="none" stroke="#000" stroke-width="1"/>
<path d="M333 419.3 C334.6 419.7 340.1 420.1 342.4 421.8 C344.7 423.5 345.9 426.2 346.7 429.3 C347.5 432.4 347.3 438.8 347.4 440.7" fill="none" stroke="#000" stroke-width="1"/>
<path d="M337.5 445.5 L339.5 500.7" fill="none" stroke="#000" stroke-width="1"/>
<path d="M323 440 A9.4 13 -27 0 1 306.2 448.6 A9.4 13 -27 0 1 323 440Z" fill="none" stroke="#000" stroke-width="1"/>
<path d="M321.5 440.8 A7.7 11.3 -27 0 1 307.7 447.8 A7.7 11.3 -27 0 1 321.5 440.8Z" fill="none" stroke="#000" stroke-width="1"/>
<path d="M320 441.9 A5.8 9.4 -27 0 1 309.6 447.1 A5.8 9.4 -27 0 1 320 441.9Z" fill="none" stroke="#000" stroke-width="1.2"/>
<path d="M320.6 450.7 A5.8 9.4 -27 1 1 308.5 437.8" fill="none" stroke="#000" stroke-width="2.2"/>
<path d="M314.3 456.7 L303 522" fill="none" stroke="#000" stroke-width="1"/>
<path d="M246.2 468.6 L288.6 444.3" fill="none" stroke="#000" stroke-width="1"/>
<path d="M288.6 444.3 C289.3 444.1 291.1 442.8 293 443.4 C294.9 444 297.9 445.9 299.8 448 C301.7 450.1 303.4 453.8 304.2 456.2 C305 458.6 305.1 460.6 304.8 462.4 C304.5 464.2 302.7 466.1 302.3 466.8" fill="none" stroke="#000" stroke-width="1"/>
<path d="M302.3 466.8 L262.4 488" fill="none" stroke="#000" stroke-width="1"/>
<path d="M251.8 468 C253 468.9 256.8 471.4 258.7 473.6 C260.6 475.8 262.2 479 263 481.1 C263.8 483.2 264 484.7 263.7 486.1 C263.4 487.6 262.5 489 261.2 489.8 C259.9 490.6 256.9 490.6 256 490.8" fill="none" stroke="#000" stroke-width="1"/>
<path d="M245.6 472.6 L246.2 468.6" fill="none" stroke="#000" stroke-width="1"/>
<path d="M274.5 454.6 C275.3 455.2 277.7 456.5 279.1 458.2 C280.5 460 282 462.9 282.7 465.1 C283.4 467.3 283.3 469.6 283.3 471.6 C283.3 473.6 282.6 476.3 282.5 477.2" fill="none" stroke="#000" stroke-width="1.2"/>
<path d="M276.1 453.7 C276.8 454.3 279.3 455.6 280.7 457.3 C282 459.1 283.6 462 284.2 464.2 C284.9 466.5 284.9 468.7 284.9 470.7 C284.9 472.7 284.4 475.3 284.2 476.3" fill="none" stroke="#000" stroke-width="1.2"/>
<path d="M277.6 452.9 C278.4 453.5 280.8 454.7 282.2 456.5 C283.6 458.2 285.1 461.1 285.8 463.4 C286.5 465.6 286.4 467.9 286.4 469.9 C286.4 471.9 286.1 474.4 286 475.3" fill="none" stroke="#000" stroke-width="1.2"/>
<path d="M279.1 452 C279.9 452.6 282.4 453.9 283.8 455.6 C285.1 457.4 286.6 460.3 287.3 462.5 C288 464.8 287.9 467 287.9 469 C288 471 287.8 473.5 287.8 474.4" fill="none" stroke="#000" stroke-width="1.2"/>
<path d="M280.7 451.2 C281.5 451.8 283.9 453 285.3 454.8 C286.7 456.5 288.2 459.4 288.9 461.7 C289.6 463.9 289.4 466.2 289.5 468.2 C289.6 470.1 289.5 472.6 289.5 473.5" fill="none" stroke="#000" stroke-width="1.2"/>
<path d="M282.2 450.3 C283 450.9 285.5 452.2 286.9 453.9 C288.2 455.7 289.8 458.6 290.4 460.8 C291.1 463 290.9 465.3 291.1 467.3 C291.2 469.3 291.2 471.7 291.2 472.6" fill="none" stroke="#000" stroke-width="1.2"/>
<path d="M283.8 449.4 C284.6 450 287 451.3 288.4 453 C289.8 454.8 291.3 457.7 292 459.9 C292.7 462.2 292.4 464.5 292.6 466.4 C292.8 468.4 292.9 470.8 293 471.6" fill="none" stroke="#000" stroke-width="1.2"/>
<path d="M285.4 448.6 C286.1 449.2 288.6 450.4 290 452.2 C291.3 453.9 292.9 456.8 293.6 459.1 C294.2 461.3 294 463.6 294.2 465.6 C294.4 467.5 294.6 469.8 294.8 470.7" fill="none" stroke="#000" stroke-width="1.2"/>
<path d="M286.9 447.7 C287.7 448.3 290.1 449.6 291.5 451.3 C292.9 453.1 294.4 456 295.1 458.2 C295.8 460.5 295.5 462.8 295.7 464.7 C295.9 466.6 296.4 468.9 296.5 469.8" fill="none" stroke="#000" stroke-width="1.2"/>
<path d="M273.5 455.2 L287.5 447.3" fill="none" stroke="#000" stroke-width="2"/>
<path d="M231.9 481.1 L246.8 473" fill="none" stroke="#000" stroke-width="1"/>
<path d="M239.3 499.2 L256 490.8" fill="none" stroke="#000" stroke-width="1"/>
<path d="M243.2 486.7 A7.6 9.9 -25 0 1 229.4 493.1 A7.6 9.9 -25 0 1 243.2 486.7Z" fill="none" stroke="#000" stroke-width="1"/>
<path d="M240.9 488.1 A4.8 6.7 -25 0 1 232.1 492.1 A4.8 6.7 -25 0 1 240.9 488.1Z" fill="none" stroke="#000" stroke-width="1.3"/>
<path d="M239.5 477.3 C240.1 477.8 242.3 478.7 243.3 480.1 C244.3 481.5 245.3 483.9 245.7 485.8 C246.1 487.8 246.1 490.3 245.9 491.8 C245.7 493.3 244.9 494.1 244.7 494.6" fill="none" stroke="#000" stroke-width="1.2"/>
<path d="M240.7 476.7 C241.3 477.1 243.4 478.1 244.5 479.5 C245.5 480.9 246.4 483.2 246.8 485.2 C247.3 487.1 247.2 489.7 247.1 491.2 C246.9 492.6 246.1 493.5 245.8 494" fill="none" stroke="#000" stroke-width="1.2"/>
<path d="M241.8 476.1 C242.4 476.5 244.6 477.4 245.6 478.9 C246.6 480.3 247.6 482.6 248 484.6 C248.4 486.5 248.4 489.1 248.2 490.6 C248 492 247.2 492.9 247 493.4" fill="none" stroke="#000" stroke-width="1.2"/>
<path d="M242.9 475.4 C243.6 475.9 245.7 476.8 246.8 478.2 C247.8 479.7 248.7 482 249.1 483.9 C249.6 485.9 249.5 488.5 249.3 489.9 C249.2 491.4 248.3 492.3 248.1 492.7" fill="none" stroke="#000" stroke-width="1.2"/>
<path d="M244.1 474.8 C244.7 475.3 246.9 476.2 247.9 477.6 C248.9 479 249.9 481.4 250.3 483.3 C250.7 485.3 250.7 487.9 250.5 489.3 C250.3 490.8 249.5 491.7 249.3 492.1" fill="none" stroke="#000" stroke-width="1.2"/>
<path d="M245.2 474.2 C245.9 474.7 248 475.6 249.1 477 C250.1 478.4 251 480.8 251.4 482.7 C251.9 484.6 251.8 487.2 251.7 488.7 C251.5 490.2 250.6 491 250.4 491.5" fill="none" stroke="#000" stroke-width="1.2"/>
<path d="M246.4 473.6 C247 474 249.2 475 250.2 476.4 C251.2 477.8 252.2 480.1 252.6 482.1 C253 484 253 486.6 252.8 488.1 C252.6 489.5 251.8 490.4 251.6 490.9" fill="none" stroke="#000" stroke-width="1.2"/>
<path d="M239 477.6 L247 473.2" fill="none" stroke="#000" stroke-width="2"/>
<path d="M268.5 486 L263.7 545.5" fill="none" stroke="#000" stroke-width="1"/>
<path d="M202.5 440.5 L206 438.4 L239.3 456.8 L227.4 463.9 L212.4 456.1" fill="none" stroke="#000" stroke-width="1"/>
<path d="M202.5 440.5 L212.4 445.5" fill="none" stroke="#000" stroke-width="1"/>
<path d="M202.5 440.5 L202.5 446.8 L212.4 451.1" fill="none" stroke="#000" stroke-width="1"/>
<path d="M212.4 445.5 L212.4 460.5 L227.4 469.9 L239.6 463 L239.3 456.8" fill="none" stroke="#000" stroke-width="1"/>
<path d="M227.4 463.9 L227.4 469.9" fill="none" stroke="#000" stroke-width="1"/>
<path d="M231.7 457.2 A5.6 3.3 8 0 1 220.7 455.6 A5.6 3.3 8 0 1 231.7 457.2Z" fill="none" stroke="#000" stroke-width="1"/>
<path d="M223 447.4 L226.4 421.8" fill="none" stroke="#000" stroke-width="1"/>
<path d="M177.5 523.9 A2.9 4.8 -30 0 1 172.5 526.9 A2.9 4.8 -30 0 1 177.5 523.9Z" fill="none" stroke="#000" stroke-width="1"/>
<path d="M176.9 517.9 A3.1 5 -30 0 1 183.4 525" fill="none" stroke="#000" stroke-width="1"/>
<path d="M182.4 514.5 A3.1 5 -30 0 1 188.9 521.6" fill="none" stroke="#000" stroke-width="1"/>
<path d="M188.1 511.4 A3.1 5 -30 0 1 194.6 518.5" fill="none" stroke="#000" stroke-width="1"/>
<path d="M193.7 508.5 A3.1 5 -30 0 1 200.2 515.6" fill="none" stroke="#000" stroke-width="1"/>
<path d="M199.9 505.2 A3.1 5 -30 0 1 206.4 512.3" fill="none" stroke="#000" stroke-width="1"/>
<path d="M205.5 502.1 A3.1 5 -30 0 1 212 509.2" fill="none" stroke="#000" stroke-width="1"/>
<path d="M210.8 499.2 A3.1 5 -30 0 1 217.3 506.3" fill="none" stroke="#000" stroke-width="1"/>
<path d="M216.1 496.1 A3.1 5 -30 0 1 222.6 503.2" fill="none" stroke="#000" stroke-width="1"/>
<path d="M194.9 508.6 L171.2 460" fill="none" stroke="#000" stroke-width="1"/>
<path d="M117.5 549.8 L128.7 544.2" fill="none" stroke="#000" stroke-width="1"/>
<path d="M122.4 562.3 L133.7 556.4" fill="none" stroke="#000" stroke-width="1"/>
<path d="M124 554.1 A4.4 6.6 -25 0 1 116 557.9 A4.4 6.6 -25 0 1 124 554.1Z" fill="none" stroke="#000" stroke-width="1"/>
<path d="M119.1 549.4 A4.4 6.6 -25 1 1 126.5 560" fill="none" stroke="#000" stroke-width="1.2"/>
<path d="M122.2 547.8 A4.4 6.6 -25 1 1 129.6 558.4" fill="none" stroke="#000" stroke-width="1.2"/>
<path d="M125.3 546.2 A4.4 6.6 -25 1 1 132.7 556.8" fill="none" stroke="#000" stroke-width="1.2"/>
<path d="M128.7 544.2 L129.3 539.9" fill="none" stroke="#000" stroke-width="1"/>
<path d="M129.3 539.9 L156.7 524.9" fill="none" stroke="#000" stroke-width="1"/>
<path d="M156.7 524.9 C157.6 525.5 160.7 526.9 162.3 528.6 C163.9 530.3 165.4 533 166.1 534.9 C166.8 536.8 166.9 538.5 166.7 539.9 C166.5 541.2 165.1 542.5 164.8 543" fill="none" stroke="#000" stroke-width="1"/>
<path d="M164.8 543 L138.7 557.3" fill="none" stroke="#000" stroke-width="1"/>
<path d="M138.7 557.3 C138.2 557.3 136.4 557.8 135.5 557.6 C134.6 557.4 133.6 556.4 133.2 556.2" fill="none" stroke="#000" stroke-width="1"/>
<path d="M131.5 538.8 C132.2 539.5 134.6 541.2 135.7 543 C136.8 544.8 137.6 547.9 137.8 549.8 C138 551.7 137.2 553.5 137.1 554.3" fill="none" stroke="#000" stroke-width="1.1"/>
<path d="M137.4 535.5 C138.1 536.2 140.5 537.9 141.6 539.7 C142.7 541.5 143.5 544.6 143.7 546.5 C143.9 548.4 143.1 550.2 143 551" fill="none" stroke="#000" stroke-width="1.1"/>
<path d="M143 532.4 C143.7 533.1 146.1 534.8 147.2 536.6 C148.2 538.4 149.1 541.5 149.3 543.4 C149.5 545.3 148.7 547.1 148.6 547.9" fill="none" stroke="#000" stroke-width="1.1"/>
<path d="M147.8 529.8 C148.5 530.5 150.9 532.2 152 534 C153.1 535.8 153.9 538.9 154.1 540.8 C154.3 542.7 153.5 544.5 153.4 545.3" fill="none" stroke="#000" stroke-width="1.1"/>
<path d="M152.2 527.4 C152.9 528.1 155.3 529.8 156.4 531.6 C157.4 533.4 158.3 536.5 158.5 538.4 C158.7 540.3 157.9 542.1 157.8 542.9" fill="none" stroke="#000" stroke-width="1.1"/>
<path d="M137.4 534.9 L115.6 491.2" fill="none" stroke="#000" stroke-width="1"/>
<path d="M111.7 561.2 A5.4 8.7 -27 0 1 102.1 566.2 A5.4 8.7 -27 0 1 111.7 561.2Z" fill="none" stroke="#000" stroke-width="1"/>
<path d="M105.5 555.2 L76.5 516.5" fill="none" stroke="#000" stroke-width="1"/>
<path d="M97.8 570.4 A10.1 14.6 -27 0 1 79.8 579.6 A10.1 14.6 -27 0 1 97.8 570.4Z" fill="none" stroke="#000" stroke-width="1"/>
<path d="M94.3 572.2 A6.2 9.6 -27 0 1 83.3 577.8 A6.2 9.6 -27 0 1 94.3 572.2Z" fill="none" stroke="#000" stroke-width="1"/>
<path d="M78 566.2 L43 538" fill="none" stroke="#000" stroke-width="1"/>
<path d="M44.3 586.8 C45.2 585.6 47.7 581.7 50 579.9 C52.3 578.1 55.5 576.5 58 576.2 C60.5 575.9 62.7 576.4 64.9 578 C67.1 579.6 69.6 583.3 71.1 586.1 C72.5 588.9 73.4 592.4 73.6 594.9 C73.8 597.4 73.7 599.5 72.4 601.1 C71.2 602.8 68.4 603.6 66.1 604.8 C63.8 606 61.1 607.5 58.7 608.3 C56.3 609.1 52.9 609.5 51.8 609.8" fill="none" stroke="#000" stroke-width="1"/>
<path d="M40 591.1 L44.3 586.8 L51 587.5 L55.7 594.9 L56.2 604.8 L51.8 609.8 L46.8 608 L41.2 599.9Z" fill="#fff" stroke="#000" stroke-width="1"/>
<path d="M53.4 595.7 A5.6 8.2 -27 0 1 43.4 600.7 A5.6 8.2 -27 0 1 53.4 595.7Z" fill="none" stroke="#000" stroke-width="1"/>
<path d="M52.1 596.6 A3.9 6 -27 0 1 45.1 600.2 A3.9 6 -27 0 1 52.1 596.6Z" fill="none" stroke="#000" stroke-width="1.2"/>
<path d="M51 587.5 C52.2 587.7 55.9 587.5 58 588.5 C60.1 589.5 62.7 591.3 63.7 593.6 C64.8 595.9 65.1 599.8 64.3 602.3 C63.5 604.8 59.6 607.3 58.7 608.3" fill="none" stroke="#000" stroke-width="1"/>
<path d="M55.7 594.9 L63.7 592.6" fill="none" stroke="#000" stroke-width="1"/>
<path d="M56.2 604.8 L64.2 601.8" fill="none" stroke="#000" stroke-width="1"/>
<path d="M47 583.8 C48.2 583.8 51.8 582.7 54 583.5 C56.2 584.3 58.9 586.8 60.5 588.5 C62.1 590.2 63.2 592.8 63.7 593.6" fill="none" stroke="#000" stroke-width="1"/>
<path d="M44.3 586.8 L3 561" fill="none" stroke="#000" stroke-width="1"/>
<path d="M410.3 95.2 L417.8 95.2 L417.3 99.8 L415 102.3 L412 104.4" fill="none" stroke="#000" stroke-width="1"/>
<path d="M421.7 95.7 L430.8 95.7 L430.8 103 L421.7 103 L421.7 95.7" fill="none" stroke="#000" stroke-width="1"/>
<path d="M435.9 95.7 L438.4 97.7" fill="none" stroke="#000" stroke-width="1"/>
<path d="M435.9 104 L440.5 101.2 L443.7 96.6" fill="none" stroke="#000" stroke-width="1"/>
<path d="M451 92.2 L451 103.6" fill="none" stroke="#000" stroke-width="1"/>
<path d="M451 96.6 L454.4 99.8" fill="none" stroke="#000" stroke-width="1"/>
<path d="M462.8 92.2 L460 98.4" fill="none" stroke="#000" stroke-width="1"/>
<path d="M461.4 96.6 L469.1 96.6" fill="none" stroke="#000" stroke-width="1"/>
<path d="M466 96.6 L465.6 101.2 L462.8 104.4" fill="none" stroke="#000" stroke-width="1"/>
<path d="M473.2 98.9 L480.9 98.9" fill="none" stroke="#000" stroke-width="1"/>
<path d="M486.5 95.2 L493.4 95.2 L490.7 100.5 L486.5 104.4" fill="none" stroke="#000" stroke-width="1"/>
<path d="M491.1 100.5 L494.1 104" fill="none" stroke="#000" stroke-width="1"/>
<path d="M410.6 120.9 L410.6 110.7 L415.6 110.7" fill="none" stroke="#000" stroke-width="1"/>
<path d="M410.6 115.5 L414.4 115.5" fill="none" stroke="#000" stroke-width="1"/>
<path d="M420.2 114.3 L420.2 120.9" fill="none" stroke="#000" stroke-width="1"/>
<path d="M420.2 116.3 L421.6 114.8 L423 114.3 L424.6 114.7" fill="none" stroke="#000" stroke-width="1"/>
<path d="M429.4 114.3 L431.9 114.3 L433.4 115.7 L433.4 119.5 L431.9 120.9 L429.4 120.9 L427.9 119.5 L427.9 115.7 L429.4 114.3" fill="none" stroke="#000" stroke-width="1"/>
<path d="M436.7 114.3 L436.7 120.9" fill="none" stroke="#000" stroke-width="1"/>
<path d="M436.7 115.9 L438.2 114.6 L440.2 114.3 L441.7 114.9 L442.2 116.2 L442.2 120.9" fill="none" stroke="#000" stroke-width="1"/>
<path d="M447.2 111.5 L447.2 119.7 L448.1 120.9 L449.7 120.9" fill="none" stroke="#000" stroke-width="1"/>
<path d="M445.5 114.3 L449.5 114.3" fill="none" stroke="#000" stroke-width="1"/>
<path d="M467.1 112.7 L466.1 111.2 L464.6 110.7 L463.6 110.7 L462.3 111.5 L461.6 113.2 L461.6 118.4 L462.3 120.1 L463.6 120.9 L464.6 120.9 L466.1 120.4 L467.1 118.9" fill="none" stroke="#000" stroke-width="1"/>
<path d="M470.9 115.2 L472.4 114.3 L474.2 114.3 L475.4 115.2 L475.4 120.9" fill="none" stroke="#000" stroke-width="1"/>
<path d="M475.4 117.2 L472.4 117.2 L470.7 118.2 L470.4 119.5 L471.2 120.7 L472.6 120.9 L474.2 120.5 L475.4 119.3" fill="none" stroke="#000" stroke-width="1"/>
<path d="M484.2 115.2 L483 114.3 L480.7 114.3 L479.4 115.2 L479.5 116.5 L480.7 117.3 L483 117.8 L484.2 118.7 L484.2 120 L483 120.9 L480.7 120.9 L479.2 120" fill="none" stroke="#000" stroke-width="1"/>
<path d="M488 117.5 L493.2 117.5 L493.2 115.7 L492 114.3 L489.5 114.3 L488 115.7 L488 119.5 L489.5 120.9 L492 120.9 L493.2 119.9" fill="none" stroke="#000" stroke-width="1"/>
<path d="M615 770.7 L615 764.2 L618 764.2 L619 765 L619 766.7 L618 767.5 L615 767.5" fill="none" stroke="#000" stroke-width="1"/>
<path d="M626.2 764.2 L627.2 770.7 L628.4 766.2 L629.6 770.7 L630.6 764.2" fill="none" stroke="#000" stroke-width="1"/>
<path d="M636.3 764.2 L636.3 770.7 L639.3 770.7 L640.3 769.8 L640.3 768.2 L639.3 767.4 L636.3 767.4" fill="none" stroke="#000" stroke-width="1"/>
<path d="M639.3 767.4 L640.1 766.6 L640.1 765 L639.3 764.2 L636.3 764.2" fill="none" stroke="#000" stroke-width="1"/>
<path d="M650 764.2 L646.3 764.2 L646 767.2 L648.8 766.9 L650 767.8 L650 769.7 L649 770.7 L647 770.7 L646 770" fill="none" stroke="#000" stroke-width="1"/>
<path d="M656.8 764.9 L657.8 764.2 L659.8 764.2 L660.8 765 L660.8 766.5 L659.8 767.3 L658.3 767.3" fill="none" stroke="#000" stroke-width="1"/>
<path d="M659.8 767.3 L660.8 768.2 L660.8 769.8 L659.8 770.7 L657.8 770.7 L656.8 770" fill="none" stroke="#000" stroke-width="1"/>
<path d="M668.1 765.4 L669.3 764.2 L669.3 770.7" fill="none" stroke="#000" stroke-width="1"/>
<path d="M678 764.9 L679 764.2 L681 764.2 L682 765 L682 766.5 L681 767.3 L679.5 767.3" fill="none" stroke="#000" stroke-width="1"/>
<path d="M681 767.3 L682 768.2 L682 769.8 L681 770.7 L679 770.7 L678 770" fill="none" stroke="#000" stroke-width="1"/>
</svg>
</body></html>
